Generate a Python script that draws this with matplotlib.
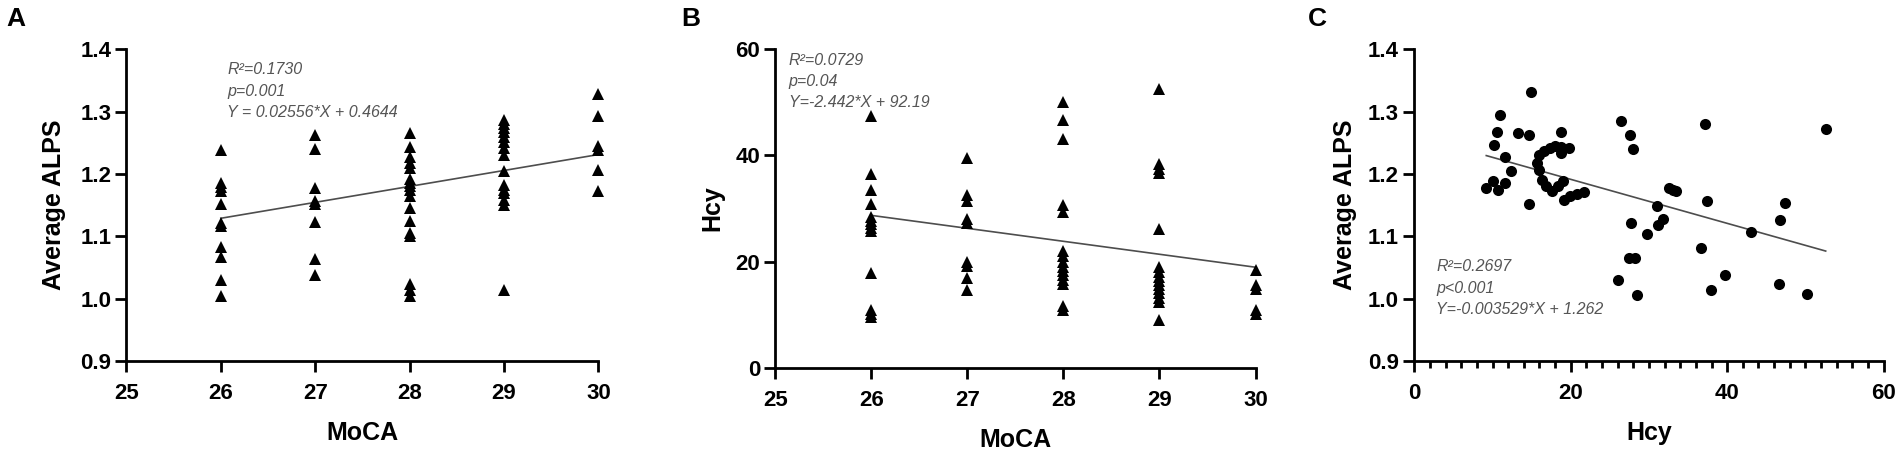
import matplotlib.pyplot as plt
import numpy as np
from matplotlib.ticker import MultipleLocator

plt.rcParams['font.family'] = ['Liberation Sans', 'DejaVu Sans']

# ----- data -----------------------------------------------------------------
moca_scores = [26, 27, 28, 29, 30]

# panel A: average ALPS per MoCA score
alps_by_moca = [
    [1.239, 1.185, 1.179, 1.172, 1.152, 1.121, 1.116, 1.083, 1.067, 1.030, 1.004],
    [1.262, 1.240, 1.177, 1.156, 1.152, 1.123, 1.064, 1.038],
    [1.266, 1.243, 1.228, 1.218, 1.210, 1.192, 1.186, 1.180, 1.175, 1.165,
     1.145, 1.125, 1.106, 1.100, 1.024, 1.014, 1.004],
    [1.287, 1.280, 1.273, 1.267, 1.260, 1.252, 1.241, 1.230, 1.204, 1.182,
     1.174, 1.169, 1.158, 1.150, 1.014],
    [1.328, 1.293, 1.245, 1.238, 1.206, 1.173],
]

# panel B: Hcy per MoCA score
hcy_by_moca = [
    [47.5, 36.5, 33.4, 30.8, 28.4, 27.6, 27.0, 26.3, 25.8, 17.8, 10.9, 10.2, 9.6],
    [39.6, 32.5, 31.5, 28.0, 27.2, 20.0, 19.2, 16.9, 14.6],
    [50.1, 46.7, 43.0, 30.7, 29.4, 22.0, 21.0, 20.0, 19.0, 18.3, 17.5, 16.6,
     15.8, 11.6, 10.8],
    [52.5, 38.3, 37.4, 36.6, 26.1, 19.0, 18.0, 17.0, 16.3, 15.5, 14.8, 14.0,
     13.2, 12.4, 9.0],
    [18.4, 15.6, 14.8, 10.9, 10.2],
]

# panel C: Hcy vs average ALPS
hcy_c = [10.9, 10.6, 10.2, 11.6, 13.3, 14.7, 18.8, 14.9, 12.4, 9.2, 10.1, 10.7,
         11.6, 14.6,
         16.0, 15.7, 15.9, 16.3, 16.9, 17.6, 18.4, 17.3, 18.0, 18.8, 19.8, 16.6,
         19.1, 19.9, 20.8, 21.7, 18.7, 19.0,
         26.4, 27.6, 27.9, 37.2, 52.6, 32.6, 33.1, 33.5, 37.4, 31.0, 27.7, 31.8,
         31.2, 29.8, 36.6, 47.4, 46.8, 43.1, 27.4, 28.2, 26.1, 28.5, 39.7, 37.9,
         46.6, 50.2]
alps_c = [1.294, 1.268, 1.247, 1.227, 1.265, 1.262, 1.268, 1.331, 1.205, 1.178,
          1.188, 1.174, 1.186, 1.152,
          1.230, 1.217, 1.206, 1.190, 1.180, 1.172, 1.180, 1.241, 1.245, 1.244,
          1.241, 1.237, 1.158, 1.164, 1.168, 1.171, 1.234, 1.188,
          1.285, 1.263, 1.240, 1.280, 1.272, 1.178, 1.175, 1.173, 1.156, 1.148,
          1.122, 1.127, 1.118, 1.104, 1.082, 1.154, 1.126, 1.107, 1.066, 1.066,
          1.030, 1.006, 1.038, 1.014, 1.024, 1.007]

# regression results printed on the panels
fit_a = (0.02556, 0.4644)
fit_b = (-2.442, 92.19)
fit_c = (-0.003529, 1.262)
stats_a = ["R\u00b2=0.1730", "p=0.001", "Y = 0.02556*X + 0.4644"]
stats_b = ["R\u00b2=0.0729", "p=0.04", "Y=-2.442*X + 92.19"]
stats_c = ["R\u00b2=0.2697", "p<0.001", "Y=-0.003529*X + 1.262"]
# ---------------------------------------------------------------------------

def expand(groups):
    xs, ys = [], []
    for score, vals in zip(moca_scores, groups):
        xs += [score] * len(vals)
        ys += vals
    return np.array(xs), np.array(ys)


def style_axes(ax):
    for s in ['top', 'right']:
        ax.spines[s].set_visible(False)
    for s in ['left', 'bottom']:
        ax.spines[s].set_linewidth(2)
    ax.tick_params(which='major', length=8, width=2, labelsize=16)
    ax.tick_params(axis='x', which='major', pad=8)
    ax.tick_params(axis='y', which='major', pad=3)
    ax.tick_params(which='minor', length=5, width=2)
    for lab in ax.get_xticklabels() + ax.get_yticklabels():
        lab.set_fontweight('bold')


def put_stats(ax, x, ys, lines):
    for y, t in zip(ys, lines):
        ax.text(x, y, t, fontsize=11.5, style='italic', color='#555555',
                va='center', ha='left')


fig = plt.figure(figsize=(19.02, 4.55), dpi=100)
axA = fig.add_axes([0.0665, 0.2066, 0.2481, 0.685])
axB = fig.add_axes([0.4077, 0.1919, 0.2524, 0.6998])
axC = fig.add_axes([0.7436, 0.2066, 0.2467, 0.685])

# A
xa, ya = expand(alps_by_moca)
axA.plot(xa, ya, '^', color='black', ms=8, mew=0, clip_on=False, zorder=3)
lx = np.array([xa.min(), xa.max()])
axA.plot(lx, fit_a[0] * lx + fit_a[1], color='#4d4d4d', lw=1.2)
axA.set_xlim(25, 30)
axA.set_ylim(0.9, 1.4)
axA.set_xticks([25, 26, 27, 28, 29, 30])
axA.set_yticks(np.arange(0.9, 1.41, 0.1))
axA.yaxis.set_major_formatter('{x:.1f}')
style_axes(axA)
axA.set_xlabel('MoCA', fontsize=18, fontweight='bold', labelpad=12)
axA.set_ylabel('Average ALPS', fontsize=18, fontweight='bold', labelpad=10)
put_stats(axA, 26.07, [1.367, 1.332, 1.298], stats_a)

# B
xb, yb = expand(hcy_by_moca)
axB.plot(xb, yb, '^', color='black', ms=8, mew=0, clip_on=False, zorder=3)
lx = np.array([xb.min(), xb.max()])
axB.plot(lx, fit_b[0] * lx + fit_b[1], color='#4d4d4d', lw=1.2)
axB.set_xlim(25, 30)
axB.set_ylim(0, 60)
axB.set_xticks([25, 26, 27, 28, 29, 30])
axB.set_yticks([0, 20, 40, 60])
style_axes(axB)
axB.set_xlabel('MoCA', fontsize=18, fontweight='bold', labelpad=12)
axB.set_ylabel('Hcy', fontsize=18, fontweight='bold', labelpad=8)
put_stats(axB, 25.14, [57.85, 53.9, 49.9], stats_b)

# C
axC.plot(hcy_c, alps_c, 'o', color='black', ms=8, mew=0, clip_on=False, zorder=3)
lx = np.array([min(hcy_c), max(hcy_c)])
axC.plot(lx, fit_c[0] * lx + fit_c[1], color='#4d4d4d', lw=1.2)
axC.set_xlim(0, 60)
axC.set_ylim(0.9, 1.4)
axC.set_xticks([0, 20, 40, 60])
axC.xaxis.set_minor_locator(MultipleLocator(2))
axC.set_yticks(np.arange(0.9, 1.41, 0.1))
axC.yaxis.set_major_formatter('{x:.1f}')
style_axes(axC)
axC.set_xlabel('Hcy', fontsize=18, fontweight='bold', labelpad=12)
axC.set_ylabel('Average ALPS', fontsize=18, fontweight='bold', labelpad=8)
put_stats(axC, 2.83, [1.051, 1.017, 0.982], stats_c)

# panel letters
for x, letter in [(6, 'A'), (681, 'B'), (1308, 'C')]:
    fig.text(x / 1902, 1 - 19 / 455, letter, fontsize=19, fontweight='bold',
             ha='left', va='center')

plt.savefig('out.png', dpi=100)
